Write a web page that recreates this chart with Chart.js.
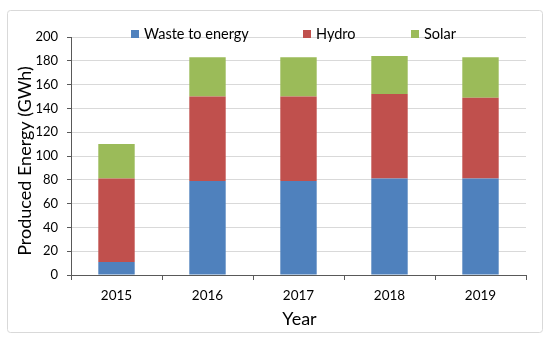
<!DOCTYPE html>
<html><head><meta charset="utf-8">
<script src="https://cdn.jsdelivr.net/npm/chart.js@4"></script>
<style>html,body{margin:0;padding:0;background:#fff}#wrap{width:550px;height:341px;position:relative}</style>
</head><body><div id="wrap"><canvas id="c" width="550" height="341"></canvas></div>
<script>
const years = ['2015','2016','2017','2018','2019'];
const wasteToEnergy = [11, 79, 79, 81, 81];
const hydro = [70, 71, 71, 71, 68];
const solar = [29, 33, 33, 32, 34];
const seriesNames = ['Waste to energy','Hydro','Solar'];
const seriesColors = ['#4f81bd','#c0504d','#9bbb59'];
const yTicks = [0,20,40,60,80,100,120,140,160,180,200];
const yTitle = 'Produced Energy (GWh)';
const xTitle = 'Year';

const FONT = 'Lato, "Open Sans", sans-serif';

const frame = {
  id:'frame',
  beforeDraw(chart){
    const ctx = chart.ctx;
    ctx.save();
    ctx.fillStyle='#fff';
    ctx.fillRect(0,0,chart.width,chart.height);
    ctx.strokeStyle='#d9d9d9';
    ctx.lineWidth=1;
    ctx.beginPath();
    ctx.roundRect(7.5,10.5,535,322,3);
    ctx.stroke();
    ctx.restore();
  }
};
const textPlugin = {
  id:'customText',
  afterDraw(chart){
    const ctx = chart.ctx;
    const xs = [131, 303, 411];
    const y = 34;
    ctx.save();
    ctx.font = '14.5px ' + FONT;
    ctx.textBaseline = 'middle';
    chart.data.datasets.forEach((ds,i)=>{
      ctx.fillStyle = ds.backgroundColor;
      ctx.fillRect(xs[i], y-4, 8, 8);
      ctx.fillStyle = '#000';
      ctx.fillText(ds.label, xs[i]+13, y);
    });
    // y axis title
    ctx.save();
    ctx.translate(25, 161);
    ctx.rotate(-Math.PI/2);
    ctx.font = '18px ' + FONT;
    ctx.textAlign = 'center';
    ctx.textBaseline = 'middle';
    ctx.fillText(yTitle, 0, 0);
    ctx.restore();
    // x axis title
    const xa = chart.chartArea;
    ctx.font = '18px ' + FONT;
    ctx.textAlign = 'center';
    ctx.textBaseline = 'middle';
    ctx.fillText(xTitle, (xa.left+xa.right)/2 + 1, 319);
    ctx.restore();
  }
};

new Chart(document.getElementById('c'), {
  type:'bar',
  data:{
    labels: years,
    datasets:[
      {label:seriesNames[0], data:wasteToEnergy, backgroundColor:seriesColors[0]},
      {label:seriesNames[1], data:hydro, backgroundColor:seriesColors[1]},
      {label:seriesNames[2], data:solar, backgroundColor:seriesColors[2]}
    ]
  },
  options:{
    responsive:false,
    animation:false,
    devicePixelRatio:1,
    layout:{padding:{left:8,right:24,top:37,bottom:14}},
    datasets:{bar:{categoryPercentage:1, barPercentage:0.4, borderWidth:0}},
    plugins:{legend:{display:false}, tooltip:{enabled:false}},
    scales:{
      x:{
        stacked:true,
        offset:true,
        grid:{offset:true, drawOnChartArea:false, drawTicks:true, tickLength:5, tickColor:'#595959'},
        border:{color:'#595959', width:1},
        ticks:{color:'#000', font:{family:FONT, size:13.5}, padding:8, maxRotation:0},
        afterFit(s){ s.height = 341 - 275 - 14; }
      },
      y:{
        stacked:true,
        min:0, max:200,
        afterBuildTicks(s){ s.ticks = yTicks.map(v=>({value:v})); },
        grid:{color:'#d9d9d9', drawTicks:true, tickLength:4, tickColor:'#595959'},
        border:{color:'#595959', width:1},
        ticks:{color:'#000', font:{family:FONT, size:13}, padding:9},
        afterFit(s){ s.width = 71 - 8; }
      }
    }
  },
  plugins:[frame, textPlugin]
});
</script></body></html>
